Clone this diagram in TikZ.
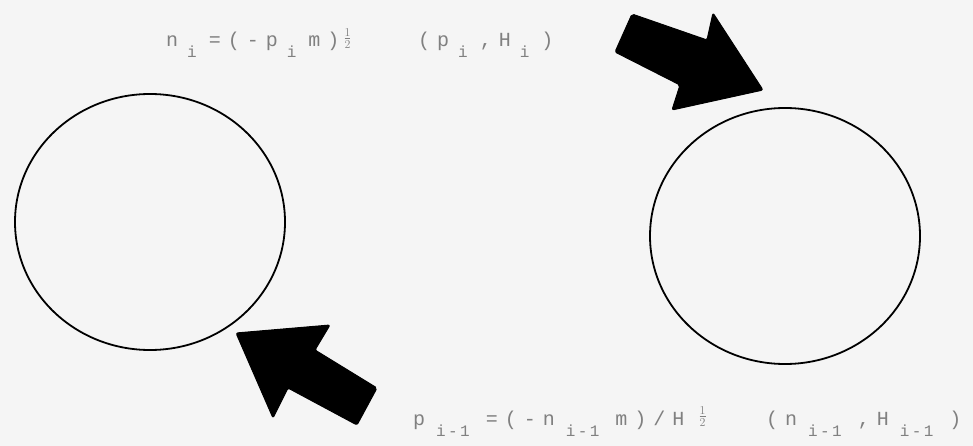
\documentclass[tikz,border=0pt]{standalone}
\usepackage{fontspec}
\newfontfamily\lbmain[LetterSpace=35]{Liberation Mono}
\newfontfamily\lbsmall[LetterSpace=15]{Liberation Mono}
\newcommand\lsub[1]{\hspace{9pt}\raisebox{-11pt}{\lbsmall\fontsize{16}{16}\selectfont #1}\hspace{12pt}}
\newcommand\lsubw[1]{\hspace{11pt}\raisebox{-11pt}{\lbsmall\fontsize{16}{16}\selectfont #1}\hspace{16pt}}
\newcommand\lhalf{\raisebox{4pt}{\fontsize{17}{17}\selectfont$\frac{1}{2}$}}
\usetikzlibrary{shapes.geometric}
\begin{document}
\begin{tikzpicture}[x=1pt,y=-1pt,
  ring/.style={draw=black,line width=1.8pt},
  fatarrow/.style={fill=black,draw=black,line width=1pt,rounded corners=2pt,line join=round},
  lbl/.style={text=black!50,inner sep=0pt,font=\lbmain\fontsize{20}{20}\selectfont}]
\fill[black!4] (0,0) rectangle (973,446);
\useasboundingbox (0,0) rectangle (973,446);
\node[ring,ellipse,minimum width=270,minimum height=256,inner sep=0pt] (c1) at (150,222) {};
\node[ring,ellipse,minimum width=270,minimum height=256,inner sep=0pt] (c2) at (785,236) {};
% arrow near right circle
\filldraw[fatarrow] (632,14) -- (707,40) -- (713,13) -- (763,90) -- (672,110) -- (680,85) -- (615,52) -- cycle;
% arrow near left circle
\filldraw[fatarrow] (236,333) -- (330,325) -- (315,350) -- (377,388) -- (357,425) -- (288,388) -- (273,418) -- cycle;
\node[lbl,anchor=base west] (t1) at (166,47) {n\lsub{i}=(-p\lsub{i}m)\hspace{4pt}\lhalf};
\node[lbl,anchor=base west] (t2) at (418,47) {(p\lsub{i},H\lsub{i})};
\node[lbl,anchor=base west] (t3) at (413,425) {p\lsubw{i-1}=(-n\lsubw{i-1}m)/H\hspace{14pt}\lhalf};
\node[lbl,anchor=base west] (t4) at (766,425) {(n\lsubw{i-1},H\lsubw{i-1})};
\end{tikzpicture}
\end{document}
